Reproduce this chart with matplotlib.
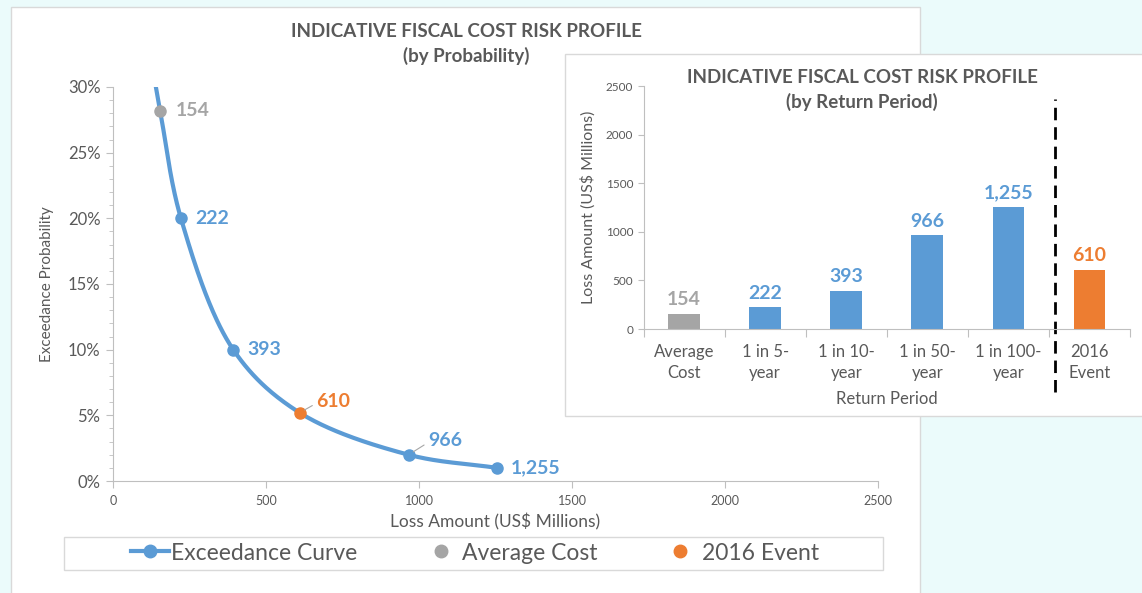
import numpy as np
import matplotlib.pyplot as plt
from matplotlib.patches import Rectangle
from matplotlib.lines import Line2D
from matplotlib.ticker import PercentFormatter, MultipleLocator

plt.rcParams['font.family'] = ['Lato', 'DejaVu Sans']

BLUE = '#5b9bd5'
ORANGE = '#ed7d31'
GREY = '#a5a5a5'
TXT = '#595959'
AXC = '#bfbfbf'

# exceedance curve (loss in US$ m, probability)
curve_loss = [110, 154, 222, 393, 610, 966, 1255]
curve_prob = [0.34, 0.282, 0.20, 0.10, 0.052, 0.02, 0.01]
rp_loss = [222, 393, 966, 1255]
rp_prob = [0.20, 0.10, 0.02, 0.01]
avg_loss = [154]
avg_prob = [0.282]
event_loss = [610]
event_prob = [0.052]

# return period bars
categories = ['Average\nCost', '1 in 5-\nyear', '1 in 10-\nyear', '1 in 50-\nyear',
              '1 in 100-\nyear', '2016\nEvent']
bar_values = [154, 222, 393, 966, 1255, 610]
bar_colors = [GREY, BLUE, BLUE, BLUE, BLUE, ORANGE]

W, H = 1142, 593


def fx(px):
    return px / W


def fy(py):
    return 1 - py / H


def smooth(x, y, n=60):
    # centripetal catmull-rom, done in (approx) screen space
    sx, sy = 765 / 2500, 394 / 0.30
    P = np.column_stack([np.asarray(x) * sx, np.asarray(y) * sy])
    P = np.vstack([2 * P[0] - P[1], P, 2 * P[-1] - P[-2]])
    out = []
    for i in range(1, len(P) - 2):
        p0, p1, p2, p3 = P[i - 1:i + 3]
        t0 = 0
        t1 = t0 + np.linalg.norm(p1 - p0) ** 0.5
        t2 = t1 + np.linalg.norm(p2 - p1) ** 0.5
        t3 = t2 + np.linalg.norm(p3 - p2) ** 0.5
        t = np.linspace(t1, t2, n)[:, None]
        A1 = (t1 - t) / (t1 - t0) * p0 + (t - t0) / (t1 - t0) * p1
        A2 = (t2 - t) / (t2 - t1) * p1 + (t - t1) / (t2 - t1) * p2
        A3 = (t3 - t) / (t3 - t2) * p2 + (t - t2) / (t3 - t2) * p3
        B1 = (t2 - t) / (t2 - t0) * A1 + (t - t0) / (t2 - t0) * A2
        B2 = (t3 - t) / (t3 - t1) * A2 + (t - t1) / (t3 - t1) * A3
        out.append((t2 - t) / (t2 - t1) * B1 + (t - t1) / (t2 - t1) * B2)
    out = np.vstack(out)
    return out[:, 0] / sx, out[:, 1] / sy


fig = plt.figure(figsize=(W / 100, H / 100), dpi=100, facecolor='#ebfbfb')

# white panels
fig.patches.append(Rectangle((fx(11), fy(600)), fx(920 - 11), (600 - 7) / H,
                             transform=fig.transFigure, facecolor='white',
                             edgecolor='#d9d9d9', lw=1, zorder=-1))
fig.patches.append(Rectangle((fx(565), fy(416)), fx(1142 - 565) + 0.01, (416 - 54) / H,
                             transform=fig.transFigure, facecolor='white',
                             edgecolor='#d9d9d9', lw=1, zorder=1))

# ---- main chart: by probability
ax = fig.add_axes([fx(113), fy(481), fx(878 - 113), (481 - 87) / H], zorder=0)
ax.patch.set_alpha(0)
cx, cy = smooth(curve_loss, curve_prob)
ax.plot(cx, cy, color=BLUE, lw=3, solid_capstyle='round')
ax.plot(rp_loss, rp_prob, 'o', color=BLUE, ms=8)
ax.plot(avg_loss, avg_prob, 'o', color=GREY, ms=8)
ax.plot(event_loss, event_prob, 'o', color=ORANGE, ms=8)

ax.set_xlim(0, 2500)
ax.set_ylim(0, 0.30)
ax.set_xticks(np.arange(0, 2501, 500))
ax.yaxis.set_major_locator(MultipleLocator(0.05))
ax.yaxis.set_minor_locator(MultipleLocator(0.01))
ax.yaxis.set_major_formatter(PercentFormatter(1.0, decimals=0))
for s in ['top', 'right']:
    ax.spines[s].set_visible(False)
for s in ['left', 'bottom']:
    ax.spines[s].set_color(AXC)
ax.tick_params(axis='y', which='both', color=AXC, labelcolor=TXT, labelsize=12, pad=4)
ax.tick_params(axis='y', which='major', length=5)
ax.tick_params(axis='y', which='minor', length=3)
ax.tick_params(axis='x', color=AXC, labelcolor=TXT, labelsize=9, length=5, pad=5)
ax.set_xlabel('Loss Amount (US$ Millions)', color=TXT, fontsize=12.5, labelpad=5)
ax.set_ylabel('Exceedance Probability', color=TXT, fontsize=11, labelpad=10)

lab_style = dict(fontsize=14, fontweight='bold', textcoords='offset points',
                 va='center', ha='left')
ax.annotate('154', (avg_loss[0], avg_prob[0]), xytext=(11, 0), color=GREY, **lab_style)
for lx, ly, txt in zip(rp_loss, rp_prob, ['222', '393', '966', '1,255']):
    if txt == '966':
        ax.annotate(txt, (lx, ly), xytext=(14, 10), color=BLUE,
                    arrowprops=dict(arrowstyle='-', color='#a6a6a6', lw=0.8,
                                    shrinkA=1, shrinkB=4, relpos=(0, 0.4)),
                    **lab_style)
    else:
        ax.annotate(txt, (lx, ly), xytext=(10, 0), color=BLUE, **lab_style)
ax.annotate('610', (event_loss[0], event_prob[0]), xytext=(12, 8), color=ORANGE,
            arrowprops=dict(arrowstyle='-', color='#a6a6a6', lw=0.8,
                            shrinkA=1, shrinkB=4, relpos=(0, 0.4)),
            **lab_style)

fig.text(fx(466), fy(44), 'INDICATIVE FISCAL COST RISK PROFILE\n(by Probability)',
         ha='center', va='center', fontsize=13.5, fontweight='bold', color=TXT,
         linespacing=1.4)

# legend
fig.patches.append(Rectangle((fx(64), fy(570)), fx(883 - 64), (570 - 537) / H,
                             transform=fig.transFigure, facecolor='white',
                             edgecolor='#d9d9d9', lw=1, zorder=2))
handles = [Line2D([], [], color=BLUE, lw=3, marker='o', ms=9),
           Line2D([], [], ls='none', color=GREY, marker='o', ms=9),
           Line2D([], [], ls='none', color=ORANGE, marker='o', ms=9)]
fig.legend(handles, ['Exceedance Curve', 'Average Cost', '2016 Event'],
           loc='center', bbox_to_anchor=(fx(475), fy(553)), ncol=3, frameon=False,
           fontsize=16.5, handlelength=1.65, handletextpad=0.1, columnspacing=2.8,
           labelcolor=TXT)

# ---- inset: by return period
ax2 = fig.add_axes([fx(643.5), fy(329), fx(1130 - 643.5), (329 - 86) / H], zorder=3)
ax2.patch.set_alpha(0)
x = np.arange(len(categories))
bars = ax2.bar(x, bar_values, width=0.39, color=bar_colors)
for xi, v, c in zip(x, bar_values, bar_colors):
    ax2.annotate(f'{v:,}', (xi, v), xytext=(0, 4), textcoords='offset points',
                 ha='center', va='bottom', fontsize=14, fontweight='bold', color=c)
ax2.set_xlim(-0.5, len(categories) - 0.5)
ax2.set_ylim(0, 2500)
ax2.set_yticks(np.arange(0, 2501, 500))
ax2.set_xticks(np.arange(-0.5, len(categories), 1))
ax2.set_xticklabels([])
ax2.set_xticks(x, minor=True)
ax2.set_xticklabels(categories, minor=True)
for s in ['top', 'right']:
    ax2.spines[s].set_visible(False)
for s in ['left', 'bottom']:
    ax2.spines[s].set_color(AXC)
ax2.tick_params(axis='y', color=AXC, labelcolor=TXT, labelsize=8.5, length=4)
ax2.tick_params(axis='x', which='major', color=AXC, length=6)
ax2.tick_params(axis='x', which='minor', length=0, labelcolor=TXT, labelsize=12, pad=11)
for t in ax2.xaxis.get_minorticklabels():
    t.set_linespacing(1.35)
ax2.set_xlabel('Return Period', color=TXT, fontsize=12, labelpad=7)
ax2.set_ylabel('Loss Amount (US$ Millions)', color=TXT, fontsize=11.5, labelpad=7)
ax2.axvline(4.58, ymin=-0.26, ymax=0.947, color='black', lw=2, ls=(0, (4.5, 2.5)),
            clip_on=False)

fig.text(fx(862), fy(90), 'INDICATIVE FISCAL COST RISK PROFILE\n(by Return Period)',
         ha='center', va='center', fontsize=13.5, fontweight='bold', color=TXT,
         linespacing=1.4, zorder=4)

fig.savefig('out.png', dpi=100, facecolor=fig.get_facecolor())
